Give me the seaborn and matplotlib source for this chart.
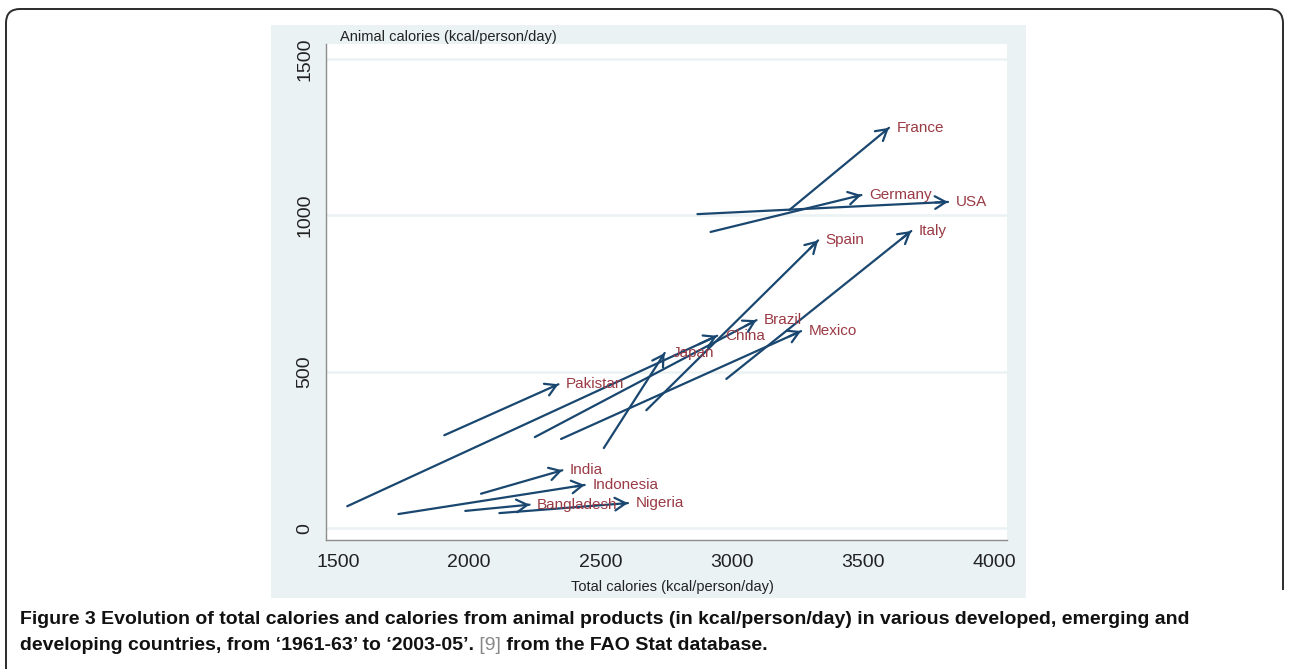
import numpy as np
import pandas as pd
import matplotlib
matplotlib.use("Agg")
import matplotlib.pyplot as plt
import seaborn as sns
from matplotlib.patches import Rectangle, PathPatch
from matplotlib.path import Path

# values (1961-63 -> 2003-05)
countries = ["China", "Pakistan", "India", "Indonesia", "Bangladesh", "Nigeria", "Japan",
             "Brazil", "Mexico", "Spain", "Italy", "France", "Germany", "USA"]
total_start = [1535, 1905, 2045, 1730, 1985, 2115, 2513, 2250, 2350, 2675, 2980, 3220, 2920, 2870]
animal_start = [70, 297, 110, 45, 55, 48, 256, 291, 285, 377, 477, 1017, 947, 1004]
total_end = [2945, 2340, 2355, 2440, 2230, 2605, 2745, 3095, 3265, 3330, 3685, 3600, 3495, 3825]
animal_end = [615, 460, 185, 138, 75, 80, 560, 665, 630, 920, 950, 1280, 1065, 1043]

x_ticks = [1500, 2000, 2500, 3000, 3500, 4000]
y_ticks = [0, 500, 1000, 1500]

navy = "#1a476f"
maroon = "#9a3a44"
bg = "#eaf2f3"

sns.set_style("white")
plt.rcParams["font.family"] = ["Liberation Sans", "DejaVu Sans"]

W, H = 1289, 669
fig = plt.figure(figsize=(W / 100, H / 100), dpi=100)
fig.patch.set_facecolor("white")

def fx(px):
    return px / W

def fy(py):
    return 1 - py / H

# graph region (light blue-grey box)
fig.patches.append(Rectangle((fx(271), fy(598)), fx(1026) - fx(271), fy(25) - fy(598),
                             transform=fig.transFigure, facecolor=bg, edgecolor="none", zorder=0))

ax = fig.add_axes([fx(326), fy(540), fx(1007) - fx(326), fy(44) - fy(540)])
ax.set_facecolor("white")
ax.set_zorder(1)

# shafts through seaborn, heads with annotate
segs = pd.DataFrame({
    "country": countries * 2,
    "total": total_start + total_end,
    "animal": animal_start + animal_end,
})
sns.lineplot(data=segs, x="total", y="animal", units="country", estimator=None,
             sort=False, color=navy, lw=1.6, legend=False, ax=ax)

for c, x0, y0, x1, y1 in zip(countries, total_start, animal_start, total_end, animal_end):
    ax.annotate("", xy=(x1, y1), xytext=(x1 - 0.05 * (x1 - x0), y1 - 0.05 * (y1 - y0)),
                arrowprops=dict(arrowstyle="->,head_length=0.65,head_width=0.38",
                                color=navy, lw=1.6, shrinkA=0, shrinkB=0, mutation_scale=12))
    ax.annotate(c, xy=(x1, y1), xytext=(5.5, 0), textcoords="offset points",
                ha="left", va="center", fontsize=11, color=maroon)

ax.set_xlim(1454, 4050)
ax.set_ylim(-38, 1548)
ax.set_xticks(x_ticks)
ax.set_yticks(y_ticks)
ax.yaxis.grid(True, color=bg, lw=1.8)
ax.xaxis.grid(False)
ax.set_axisbelow(True)

for s in ["top", "right"]:
    ax.spines[s].set_visible(False)
for s in ["left", "bottom"]:
    ax.spines[s].set_color("#8c8c8c")
    ax.spines[s].set_linewidth(1.0)

ax.tick_params(axis="both", direction="out", length=6, width=1.0, color="#8c8c8c",
               labelsize=14, labelcolor="#222222")
ax.tick_params(axis="x", pad=4)
ax.tick_params(axis="y", pad=3, labelrotation=90)
for lab in ax.get_yticklabels():
    lab.set_va("center")

ax.set_xlabel("Total calories (kcal/person/day)", fontsize=10.5, color="#222222")
ax.xaxis.set_label_coords((672 - 326) / 681, (540 - 587) / 496)
ax.xaxis.label.set_va("center")
ax.set_ylabel("")
fig.text(fx(340), fy(37), "Animal calories (kcal/person/day)", fontsize=10.5,
         color="#222222", ha="left", va="center")

# rounded frame around the figure panel
r = 14
verts = [(6, H), (6, 9 + r), (6, 9), (6 + r, 9), (1283 - r, 9), (1283, 9), (1283, 9 + r), (1283, 590)]
codes = [Path.MOVETO, Path.LINETO, Path.CURVE3, Path.CURVE3, Path.LINETO, Path.CURVE3, Path.CURVE3, Path.LINETO]
frame = Path([(fx(a), fy(b)) for a, b in verts], codes)
fig.patches.append(PathPatch(frame, transform=fig.transFigure, fill=False,
                             edgecolor="#2b2b2b", lw=1.4, zorder=0))

# caption
cap_font = ["Liberation Sans", "DejaVu Sans"]
cap_size = 14
fig.text(fx(20), fy(619),
         "Figure 3 Evolution of total calories and calories from animal products (in kcal/person/day) "
         "in various developed, emerging and",
         fontsize=cap_size, fontweight="bold", family=cap_font, ha="left", va="center", color="#111111")
t2 = fig.text(fx(20), fy(645), "developing countries, from \u20181961-63\u2019 to \u20182003-05\u2019.",
              fontsize=cap_size, fontweight="bold", family=cap_font, ha="left", va="center", color="#111111")
t3 = ax.annotate(" [9]", xy=(1, 0.5), xycoords=t2, ha="left", va="center", fontsize=cap_size,
                 family=cap_font, color="#888888", annotation_clip=False)
ax.annotate(" from the FAO Stat database.", xy=(1, 0.5), xycoords=t3, ha="left", va="center",
            fontsize=cap_size, fontweight="bold", family=cap_font, color="#111111", annotation_clip=False)

fig.savefig("out.png", dpi=100, facecolor="white")
